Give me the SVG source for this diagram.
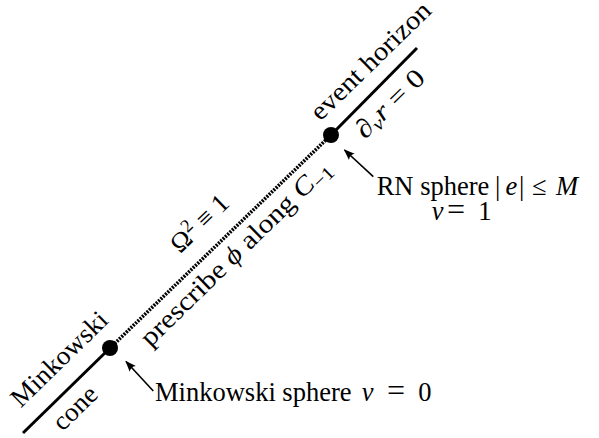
<svg xmlns="http://www.w3.org/2000/svg" width="599" height="438" viewBox="0 0 599 438">
<style>
text{font-family:"Liberation Serif","DejaVu Serif",serif;font-size:26.5px;fill:#000}
.it{font-style:italic}
.eq{font-size:32px}
.solid{stroke:#000;stroke-width:3;fill:none}
.dotted{stroke:#000;stroke-width:3.6;fill:none;stroke-dasharray:2 1.2}
.arrow{stroke:#000;stroke-width:1.6;fill:none;marker-end:url(#ah)}
</style>
<defs>
<marker id="ah" markerUnits="userSpaceOnUse" markerWidth="14" markerHeight="12" refX="0" refY="0" viewBox="-12 -6 14 12" orient="auto" overflow="visible">
<path d="M1,0 L-10,-4.2 Q-7,0 -10,4.2 Z" fill="#000"/>
</marker>
</defs>
<g id="connectors">
<line class="solid" x1="23" y1="433" x2="110" y2="348"/>
<line class="dotted" x1="110" y1="348" x2="331" y2="135"/>
<line class="solid" x1="331" y1="135" x2="417" y2="48"/>
<line class="arrow" x1="153.3" y1="391" x2="126" y2="361.5"/>
<line class="arrow" x1="373.3" y1="176.7" x2="344.5" y2="150"/>
</g>
<g id="minkowski-sphere">
<circle cx="110" cy="348" r="8" fill="#000"/>
<text y="400.7"><tspan x="155">Minkowski sphere</tspan><tspan class="it" x="361.7">v</tspan><tspan class="eq" x="387">=</tspan><tspan x="418.3">0</tspan></text>
</g>
<g id="rn-sphere">
<circle cx="331" cy="135" r="8" fill="#000"/>
<text><tspan x="376.7" y="195">RN sphere</tspan><tspan x="495" y="195">|</tspan><tspan class="it" x="505.5" y="195">e</tspan><tspan x="519" y="195">|</tspan><tspan x="532" y="195">≤</tspan><tspan class="it" x="556" y="195">M</tspan><tspan class="it" x="431.7" y="220">v</tspan><tspan class="eq" x="447" y="220">=</tspan><tspan x="478.3" y="220">1</tspan></text>
</g>
<g id="line-labels" transform="translate(110,348) rotate(-44.3)" text-anchor="middle">
<text id="minkowski-cone-above" x="-44" y="-19" textLength="124" lengthAdjust="spacingAndGlyphs">Minkowski</text>
<text id="minkowski-cone-below" x="-67" y="27" textLength="51.5" lengthAdjust="spacingAndGlyphs">cone</text>
<text id="omega" x="151" y="-18">Ω<tspan font-size="18.5" dy="-10">2</tspan><tspan dy="10"> ≡ 1</tspan></text>
<text id="prescribe" x="156" y="28" textLength="254" lengthAdjust="spacingAndGlyphs">prescribe <tspan class="it">ϕ</tspan> along <tspan class="it">C</tspan><tspan font-size="18.5" dy="5">−1</tspan></text>
<text id="event-horizon" x="387" y="-15" textLength="157" lengthAdjust="spacingAndGlyphs">event horizon</text>
<text id="dvr" x="371" y="29" textLength="86" lengthAdjust="spacingAndGlyphs">∂<tspan class="it" font-size="18.5" dy="4">v</tspan><tspan class="it" dy="-4">r</tspan> = 0</text>
</g>
</svg>
